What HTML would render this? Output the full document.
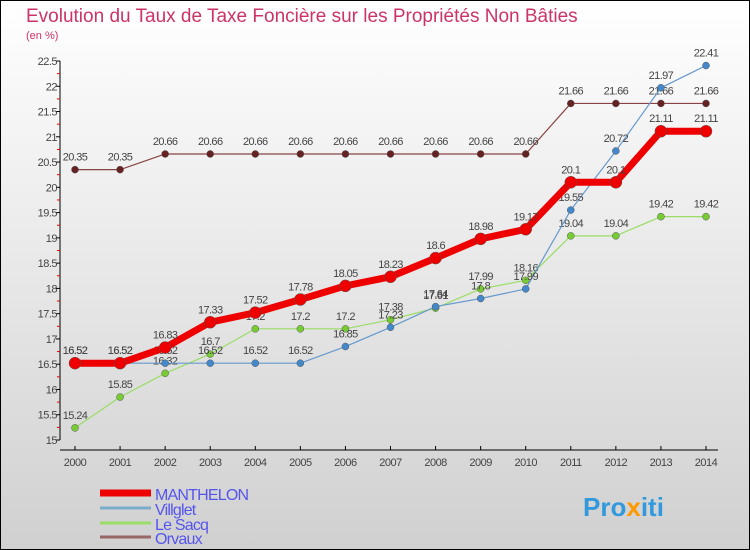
<!DOCTYPE html>
<html><head><meta charset="utf-8"><style>
body{margin:0}
#c{width:750px;height:550px;position:relative;overflow:hidden;font-family:"Liberation Sans",sans-serif}
</style></head><body>
<div id="c">
<svg id="s" width="750" height="550" xmlns="http://www.w3.org/2000/svg">
<defs><linearGradient id="bg" x1="0" y1="0" x2="0" y2="1"><stop offset="0" stop-color="#ffffff"/><stop offset="1" stop-color="#d0d0d0"/></linearGradient></defs>
<rect x="0.5" y="0.5" width="749" height="549" fill="url(#bg)" stroke="#000"/>
<text x="26" y="22" font-size="19" fill="#cc3366">Evolution du Taux de Taxe Foncière sur les Propriétés Non Bâties</text>
<text x="26" y="39" font-size="11" fill="#cc3366">(en %)</text>
<g id="axes"></g><g id="series"></g><g id="legend"></g>
<text x="583" y="516" font-size="26" font-weight="bold" fill="#3399dd">Pro<tspan fill="#ff9900">x</tspan>iti</text>
</svg></div>
<script>
const years=[2000,2001,2002,2003,2004,2005,2006,2007,2008,2009,2010,2011,2012,2013,2014];
const yTicks=[15,15.5,16,16.5,17,17.5,18,18.5,19,19.5,20,20.5,21,21.5,22,22.5];
const manthelon=[16.52,16.52,16.83,17.33,17.52,17.78,18.05,18.23,18.6,18.98,19.17,20.1,20.1,21.11,21.11];
const villglet=[16.52,16.52,16.52,16.52,16.52,16.52,16.85,17.23,17.64,17.8,17.99,19.55,20.72,21.97,22.41];
const lesacq=[15.24,15.85,16.32,16.7,17.2,17.2,17.2,17.38,17.61,17.99,18.16,19.04,19.04,19.42,19.42];
const orvaux=[20.35,20.35,20.66,20.66,20.66,20.66,20.66,20.66,20.66,20.66,20.66,21.66,21.66,21.66,21.66];
const NS="http://www.w3.org/2000/svg";
const X=i=>75+i*(706-75)/(years.length-1);
const Y=v=>440-(v-15)*(440-61)/7.5;
function mk(p,t,a){const e=document.createElementNS(NS,t);for(const k in a)e.setAttribute(k,a[k]);p.appendChild(e);return e;}
const ax=document.getElementById('axes');
let l=mk(ax,'line',{x1:60,y1:61,x2:60,y2:440,stroke:'#000'});


l=mk(ax,'line',{x1:60,y1:450,x2:718,y2:450,stroke:'#000'});


yTicks.forEach(v=>{
 mk(ax,'line',{x1:56,y1:Y(v),x2:60,y2:Y(v),stroke:'#000'});
 if(v<22.5)mk(ax,'line',{x1:57,y1:Y(v+0.25),x2:60,y2:Y(v+0.25),stroke:'#e00'});
 const t=mk(ax,'text',{x:57,y:Y(v)+4,'font-size':11,fill:'#444','text-anchor':'end','letter-spacing':'-0.5'});
 t.textContent=String(v);
 
 
});
years.forEach((y,i)=>{
 mk(ax,'line',{x1:X(i),y1:446,x2:X(i),y2:450,stroke:'#000'});
 const t=mk(ax,'text',{x:X(i),y:466,'font-size':11,fill:'#444','text-anchor':'middle','letter-spacing':'-0.5'});
 t.textContent=y;
 
 
});
const sg=document.getElementById('series');
function draw(name,data,color,w,dot,r){
 const g=mk(sg,'g',{});
 
 
 const pl=mk(g,'polyline',{points:data.map((v,i)=>X(i)+','+Y(v)).join(' '),fill:'none',stroke:color,'stroke-width':w,'stroke-linejoin':'round'});
 
 
 data.forEach((v,i)=>{
  const c=mk(g,'circle',{cx:X(i),cy:Y(v),r:r,fill:dot,stroke:'#555','stroke-width':0.5});
  
  
  const t=mk(g,'text',{x:X(i),y:Y(v)-9,'font-size':11,fill:'#444','text-anchor':'middle','letter-spacing':'-0.6'});
  t.textContent=String(v);
  
  
 });
}
draw('orvaux',orvaux,'#884444',1.2,'#662222',3.5);
draw('le-sacq',lesacq,'#99dd66',1.2,'#77cc33',3.5);
draw('villglet',villglet,'#6699cc',1.2,'#4488cc',3.5);
draw('manthelon',manthelon,'#ee0000',7,'#ee0000',6);
const lg=document.getElementById('legend');
[['MANTHELON','#ee0000',7,500],['Villglet','#7aaccc',3,515],['Le Sacq','#99dd66',3,530],['Orvaux','#996666',3,544]].forEach(d=>{
 const g=mk(lg,'g',{});
 
 
 mk(g,'line',{x1:100,y1:d[3]-7,x2:151,y2:d[3]-7,stroke:d[1],'stroke-width':d[2]});
 const t=mk(g,'text',{x:155,y:d[3],'font-size':16,fill:'#5555ee','letter-spacing':'-0.8'});
 t.textContent=d[0];
});
</script>
</body></html>
